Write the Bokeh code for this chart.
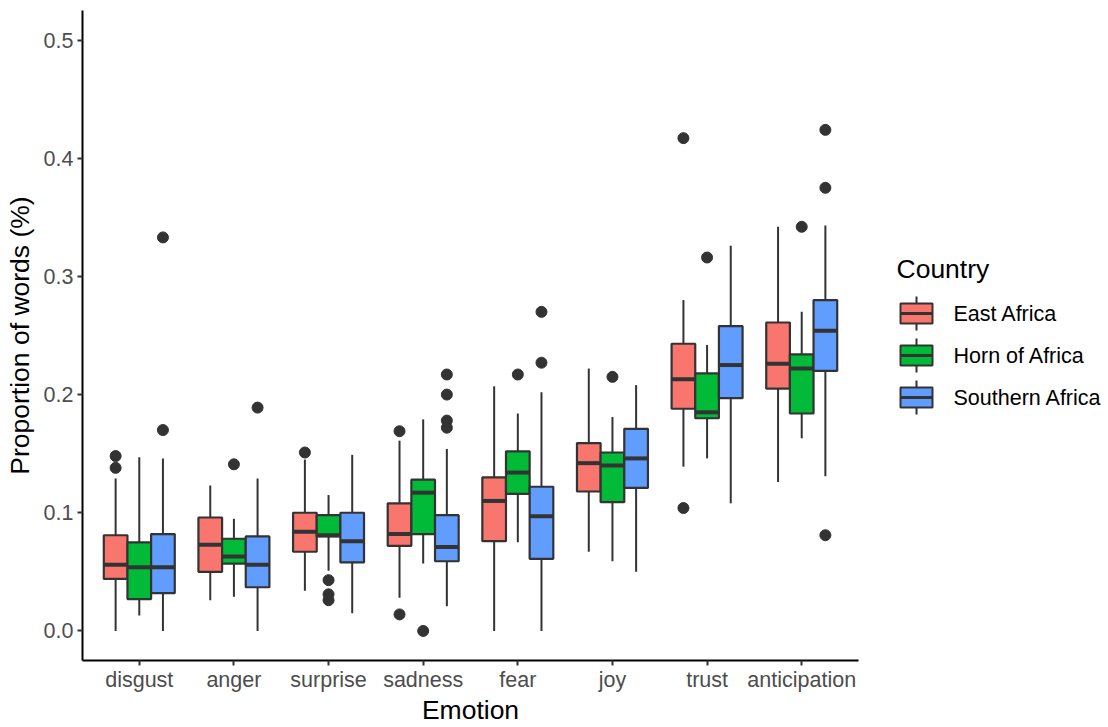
from bokeh.plotting import figure
from bokeh.models import ColumnDataSource, FixedTicker, PrintfTickFormatter, Range1d
from bokeh.layouts import row
from bokeh.core.properties import value
from bokeh.embed import file_html
from bokeh.resources import INLINE

FONT = "Liberation Sans"

# ---- data -------------------------------------------------------------
emotions = ["disgust", "anger", "surprise", "sadness", "fear", "joy", "trust", "anticipation"]
regions = ["East Africa", "Horn of Africa", "Southern Africa"]
colors = ["#F8766D", "#00BA38", "#619CFF"]

east_lower = [0.000, 0.026, 0.034, 0.028, 0.000, 0.067, 0.139, 0.126]
east_q1 = [0.044, 0.050, 0.067, 0.072, 0.076, 0.118, 0.188, 0.205]
east_median = [0.056, 0.073, 0.084, 0.082, 0.110, 0.142, 0.213, 0.226]
east_q3 = [0.081, 0.096, 0.100, 0.108, 0.130, 0.159, 0.243, 0.261]
east_upper = [0.129, 0.123, 0.145, 0.161, 0.207, 0.222, 0.280, 0.342]
east_out_emotion = ["disgust", "disgust", "surprise", "sadness", "sadness", "trust", "trust"]
east_out_value = [0.148, 0.138, 0.151, 0.169, 0.014, 0.417, 0.104]

horn_lower = [0.013, 0.029, 0.051, 0.057, 0.075, 0.059, 0.146, 0.163]
horn_q1 = [0.027, 0.057, 0.080, 0.082, 0.116, 0.109, 0.180, 0.184]
horn_median = [0.054, 0.063, 0.081, 0.117, 0.134, 0.140, 0.185, 0.222]
horn_q3 = [0.075, 0.078, 0.098, 0.128, 0.152, 0.151, 0.218, 0.234]
horn_upper = [0.147, 0.095, 0.115, 0.179, 0.184, 0.181, 0.242, 0.270]
horn_out_emotion = ["anger", "surprise", "surprise", "surprise", "sadness", "fear", "joy", "trust", "anticipation"]
horn_out_value = [0.141, 0.043, 0.031, 0.026, 0.000, 0.217, 0.215, 0.316, 0.342]

south_lower = [0.000, 0.000, 0.015, 0.021, 0.000, 0.050, 0.108, 0.131]
south_q1 = [0.032, 0.037, 0.058, 0.059, 0.061, 0.121, 0.197, 0.220]
south_median = [0.054, 0.056, 0.076, 0.071, 0.097, 0.146, 0.225, 0.254]
south_q3 = [0.082, 0.080, 0.100, 0.098, 0.122, 0.171, 0.258, 0.280]
south_upper = [0.146, 0.129, 0.149, 0.154, 0.202, 0.208, 0.326, 0.343]
south_out_emotion = ["disgust", "disgust", "anger", "sadness", "sadness", "sadness", "sadness",
                     "fear", "fear", "anticipation", "anticipation", "anticipation"]
south_out_value = [0.333, 0.170, 0.189, 0.217, 0.200, 0.178, 0.172, 0.270, 0.227, 0.424, 0.375, 0.081]

y_ticks = [0.0, 0.1, 0.2, 0.3, 0.4, 0.5]

stats = [
    (east_lower, east_q1, east_median, east_q3, east_upper, east_out_emotion, east_out_value),
    (horn_lower, horn_q1, horn_median, horn_q3, horn_upper, horn_out_emotion, horn_out_value),
    (south_lower, south_q1, south_median, south_q3, south_upper, south_out_emotion, south_out_value),
]

TICK_SIZE = "21.5px"
TITLE_SIZE = "26.5px"

# ---- main panel -------------------------------------------------------
n = len(emotions)
p = figure(width=870, height=727, output_backend="svg", toolbar_location=None,
           x_range=Range1d(0.4, n + 0.6), y_range=Range1d(-0.025, 0.525),
           min_border_left=82, min_border_right=12, min_border_top=10, min_border_bottom=67)
p.outline_line_color = None
p.xgrid.visible = False
p.ygrid.visible = False
p.background_fill_color = "white"
p.border_fill_color = "white"

dodge = 0.25
box_w = 0.25
edge = "#333333"
pos = {e: i + 1 for i, e in enumerate(emotions)}

for k, (lo, q1, med, q3, hi, oe, ov) in enumerate(stats):
    off = (k - 1) * dodge
    xs = [pos[e] + off for e in emotions]
    src = ColumnDataSource(dict(x=xs, lo=lo, q1=q1, med=med, q3=q3, hi=hi,
                                x0=[x - box_w / 2 for x in xs], x1=[x + box_w / 2 for x in xs]))
    p.segment(x0="x", y0="lo", x1="x", y1="q1", source=src, line_color=edge, line_width=2)
    p.segment(x0="x", y0="q3", x1="x", y1="hi", source=src, line_color=edge, line_width=2)
    p.vbar(x="x", width=box_w, bottom="q1", top="q3", source=src,
           fill_color=colors[k], line_color=edge, line_width=2.2)
    p.segment(x0="x0", y0="med", x1="x1", y1="med", source=src, line_color=edge, line_width=4)
    osrc = ColumnDataSource(dict(x=[pos[e] + off for e in oe], y=ov))
    p.scatter(x="x", y="y", source=osrc, size=11, fill_color=edge, line_color=edge)

# axes
p.xaxis.ticker = FixedTicker(ticks=list(range(1, n + 1)))
p.xaxis.major_label_overrides = {i + 1: e for i, e in enumerate(emotions)}
p.yaxis.ticker = FixedTicker(ticks=y_ticks)
p.yaxis.formatter = PrintfTickFormatter(format="%.1f")
p.xaxis.axis_label = "Emotion"
p.yaxis.axis_label = "Proportion of words (%)"
for ax in (p.xaxis, p.yaxis):
    ax.axis_line_color = "black"
    ax.axis_line_width = 2
    ax.major_tick_line_color = "#333333"
    ax.major_tick_line_width = 2
    ax.major_tick_out = 5
    ax.major_tick_in = 0
    ax.minor_tick_line_color = None
    ax.major_label_text_font = FONT
    ax.major_label_text_font_size = TICK_SIZE
    ax.major_label_text_color = "#4D4D4D"
    ax.axis_label_text_font = FONT
    ax.axis_label_text_font_size = TITLE_SIZE
    ax.axis_label_text_font_style = "normal"
    ax.axis_label_text_color = "black"
p.xaxis.major_label_standoff = 2
p.yaxis.major_label_standoff = 4
p.xaxis.axis_label_standoff = 0
p.yaxis.axis_label_standoff = 6

# ---- legend panel -----------------------------------------------------
# The row aligns this panel's frame with the main frame (page rows 10..660),
# so the y range is expressed in page pixels.
lg = figure(width=238, height=727, output_backend="svg", toolbar_location=None,
            x_axis_location=None, y_axis_location=None,
            x_range=Range1d(0, 238), y_range=Range1d(660, 10),
            min_border_left=0, min_border_right=0, min_border_top=10, min_border_bottom=67)
lg.title.visible = False
lg.grid.visible = False
lg.outline_line_color = None

key_x = 46
key_y = [313 + 42 * i for i in range(len(regions))]
ksrc = ColumnDataSource(dict(x=[key_x] * len(regions), y=key_y, c=colors,
                             top=[y - 10 for y in key_y], bot=[y + 10 for y in key_y],
                             wt=[y - 17 for y in key_y], wb=[y + 17 for y in key_y],
                             x0=[key_x - 16] * len(regions), x1=[key_x + 16] * len(regions),
                             label=regions, tx=[83] * len(regions)))
lg.segment(x0="x", y0="wt", x1="x", y1="wb", source=ksrc, line_color=edge, line_width=2)
lg.quad(left="x0", right="x1", top="top", bottom="bot", source=ksrc,
        fill_color="c", line_color=edge, line_width=2)
lg.segment(x0="x0", y0="y", x1="x1", y1="y", source=ksrc, line_color=edge, line_width=3)
lg.text(x="tx", y="y", text="label", source=ksrc, text_font=value(FONT),
        text_font_size=TICK_SIZE, text_baseline="middle", text_color="black")
lg.text(x=[26], y=[268], text=["Country"], text_font=value(FONT),
        text_font_size=TITLE_SIZE, text_baseline="middle", text_color="black")

layout = row(p, lg)
open("out.html", "w").write(file_html(layout, INLINE))
